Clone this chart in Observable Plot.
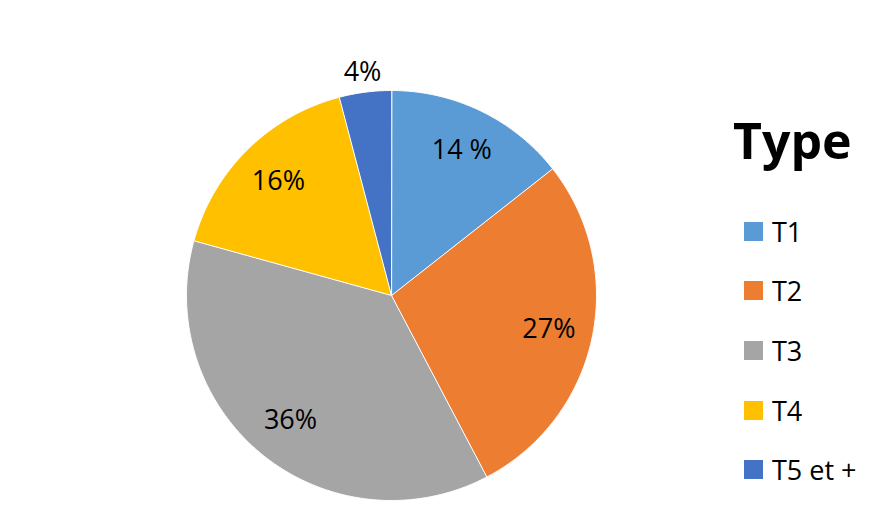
<!DOCTYPE html>
<html>
<head>
<meta charset="utf-8">
<script src="https://cdn.jsdelivr.net/npm/d3@7"></script>
<script src="https://cdn.jsdelivr.net/npm/@observablehq/plot@0.6"></script>
<style>
  html, body { margin: 0; padding: 0; background: #fff; }
  #wrap { position: relative; width: 887px; height: 527px; font-family: "Open Sans", sans-serif; }
  #legend { position: absolute; left: 0; top: 0; width: 887px; height: 527px; pointer-events: none; }
  .title { position: absolute; left: 733px; top: 115px; font-size: 50px; font-weight: bold; line-height: 1; color: #000; }
  .item { position: absolute; left: 744px; height: 30px; display: flex; align-items: center; font-size: 27px; color: #000; }
  .sw { width: 19px; height: 19px; margin-right: 9px; }
</style>
</head>
<body>
<div id="wrap"><div id="legend"></div></div>
<script>
const categories = ["T1", "T2", "T3", "T4", "T5 et +"];
const values = [14.4, 27.9, 37.0, 16.6, 4.1];
const labels = ["14 %", "27%", "36%", "16%", "4%"];
const colors = ["#5B9BD5", "#ED7D31", "#A5A5A5", "#FFC000", "#4472C4"];
const legendTitle = "Type";

const W = 887, H = 527, CX = 391, CY = 295, R = 205;

const arcs = d3.pie().sort(null).value(d => d.value)(
  categories.map((c, i) => ({cat: c, value: values[i], label: labels[i]}))
);

// slice outlines in unit coordinates (clockwise from 12 o'clock)
const poly = [];
for (const a of arcs) {
  poly.push({cat: a.data.cat, x: 0, y: 0});
  const n = Math.max(2, Math.ceil((a.endAngle - a.startAngle) / (Math.PI / 360)));
  for (let k = 0; k <= n; k++) {
    const t = a.startAngle + (a.endAngle - a.startAngle) * k / n;
    poly.push({cat: a.data.cat, x: Math.sin(t), y: Math.cos(t)});
  }
}

const labelPts = arcs.map(a => {
  const m = (a.startAngle + a.endAngle) / 2;
  const r = a.data.value < 6 ? 1.1 : 0.785;
  return {label: a.data.label, x: r * Math.sin(m), y: r * Math.cos(m)};
});

const chart = Plot.plot({
  width: W,
  height: H,
  margin: 0,
  x: {domain: [-CX / R, (W - CX) / R], axis: null},
  y: {domain: [-(H - CY) / R, CY / R], axis: null},
  color: {domain: categories, range: colors},
  style: {fontFamily: "Open Sans, sans-serif", background: "white"},
  marks: [
    Plot.line(poly, {x: "x", y: "y", z: "cat", fill: "cat", stroke: "white", strokeWidth: 1, curve: "linear-closed"}),
    Plot.text(labelPts, {x: "x", y: "y", text: "label", fontSize: 27, fill: "black"})
  ]
});
document.getElementById("wrap").prepend(chart);

const legend = document.getElementById("legend");
const t = document.createElement("div");
t.className = "title";
t.textContent = legendTitle;
legend.appendChild(t);
categories.forEach((c, i) => {
  const it = document.createElement("div");
  it.className = "item";
  it.style.top = (231 + i * 59.7 - 15) + "px";
  const sw = document.createElement("span");
  sw.className = "sw";
  sw.style.background = colors[i];
  const lb = document.createElement("span");
  lb.textContent = c;
  it.appendChild(sw);
  it.appendChild(lb);
  legend.appendChild(it);
});
</script>
</body>
</html>
